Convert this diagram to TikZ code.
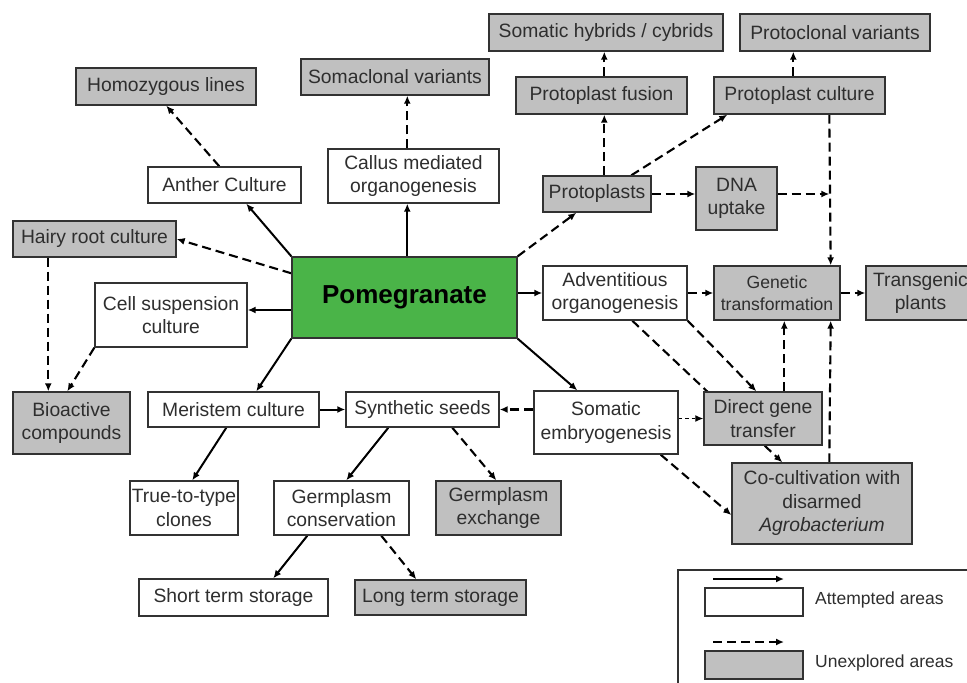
\documentclass[tikz,border=0pt]{standalone}
\usepackage{fontspec}
\setmainfont{Liberation Sans}
\usetikzlibrary{arrows.meta,calc}
\pgfdeclarelayer{bg}
\pgfsetlayers{bg,main}
\definecolor{boxgrey}{RGB}{192,192,192}
\definecolor{pomgreen}{RGB}{74,180,72}
\definecolor{edgecol}{RGB}{50,50,50}
\newcommand\mybox[7]{\node[#1, minimum width={(#5-#3)*1pt}, minimum height={(#6-#4)*1pt}] (#2) at ({(#3+#5)/2},{(#4+#6)/2}) {#7};}
\begin{document}
\begin{tikzpicture}[x=1pt,y=-1pt,
  base/.style={draw=edgecol, line width=1.4pt, inner sep=0pt, align=center,
    font=\fontsize{19.3}{23.5}\selectfont, text=black!82},
  wbox/.style={base, fill=white},
  gbox/.style={base, fill=boxgrey},
  pbox/.style={base, fill=pomgreen, text=black, font=\bfseries\fontsize{26}{30}\selectfont},
  smallfont/.style={font=\fontsize{17.6}{22}\selectfont},
  solidarr/.style={line width=2pt, draw=black, -{Latex[length=8pt,width=7pt]}},
  dasharr/.style={line width=2.1pt, draw=black, dash pattern=on 9pt off 5pt, -{Latex[length=8pt,width=7pt]}},
  dotarr/.style={line width=1.3pt, draw=black, dash pattern=on 3.5pt off 3pt, -{Latex[length=8pt,width=7pt]}},
  legtext/.style={anchor=west, inner sep=0pt, font=\fontsize{17.5}{21}\selectfont, text=black!82},
  legframe/.style={draw=edgecol, line width=1.2pt},
  ]
\useasboundingbox (0,0) rectangle (967,683);

% boxes
\mybox{gbox}{homo}{76}{68}{256}{105}{Homozygous lines}
\mybox{gbox}{somac}{301}{59}{489}{95}{Somaclonal variants}
\mybox{wbox}{anther}{148}{167}{301}{203}{Anther Culture}
\mybox{wbox}{callus}{328}{149}{499}{203}{Callus mediated\\organogenesis}
\mybox{gbox}{hairy}{13}{221}{176}{257}{Hairy root culture}
\mybox{gbox}{somhyb}{489}{14}{723}{51}{Somatic hybrids / cybrids}
\mybox{gbox}{protoclonal}{740}{14}{930}{51}{Protoclonal variants}
\mybox{gbox}{pfusion}{516}{77}{687}{114}{Protoplast fusion}
\mybox{gbox}{pculture}{714}{77}{885}{114}{Protoplast culture}
\mybox{gbox}{protoplasts}{543}{176}{651}{212}{Protoplasts}
\mybox{gbox}{dna}{696}{167}{777}{230}{DNA\\uptake}
\mybox{wbox}{cellsusp}{95}{283}{247}{347}{Cell suspension\\culture}
\mybox{pbox}{pome}{292}{257}{517}{338}{Pomegranate}
\mybox{gbox}{bioactive}{13}{392}{130}{454}{Bioactive\\compounds}
\mybox{wbox}{meristem}{148}{392}{319}{427}{Meristem culture}
\mybox{wbox}{synth}{346}{392}{499}{427}{Synthetic seeds}
\mybox{wbox}{advent}{543}{266}{687}{320}{Adventitious\\organogenesis}
\mybox{gbox,smallfont}{genetic}{714}{266}{840}{320}{Genetic\\transformation}
\mybox{gbox}{transgenic}{866}{266}{975}{320}{Transgenic\\plants}
\mybox{wbox}{somemb}{534}{391}{678}{454}{Somatic\\embryogenesis}
\mybox{gbox}{direct}{704}{392}{822}{445}{Direct gene\\transfer}
\mybox{gbox}{cocult}{732}{463}{912}{544}{Co-cultivation with\\disarmed\\\textit{Agrobacterium}}
\mybox{wbox}{truetype}{130}{481}{238}{535}{True-to-type\\clones}
\mybox{wbox}{germcons}{274}{481}{409}{535}{Germplasm\\conservation}
\mybox{gbox}{germex}{436}{481}{561}{535}{Germplasm\\exchange}
\mybox{wbox}{short}{139}{579}{328}{616}{Short term storage}
\mybox{gbox}{long}{355}{580}{526}{615}{Long term storage}

% helper coordinates
\coordinate (pw) at ($(pome.west)+(0,12.5)$);
\coordinate (cb) at ($(callus.south west)+(80,0)$);
\coordinate (vx) at ($(pculture.south west)+(116,0)$);
\coordinate (dnaj) at (vx |- protoplasts.east);

\begin{pgfonlayer}{bg}
% solid arrows
\draw[solidarr] (pome.north west) -- ($(anther.south west)+(99,0)$);
\draw[solidarr] (cb |- pome.north) -- (cb);
\draw[solidarr] (pw) -- (cellsusp.east |- pw);
\draw[solidarr] (pome.south west) -- ($(meristem.north west)+(109,0)$);
\draw[solidarr] (pome.east |- advent.west) -- (advent.west);
\draw[solidarr] (pome.south east) -- ($(somemb.north west)+(44,0)$);
\draw[solidarr] (meristem.east) -- (synth.west);
\draw[solidarr] ($(meristem.south west)+(79,0)$) -- ($(truetype.north west)+(63,0)$);
\draw[solidarr] ($(synth.south west)+(43,0)$) -- ($(germcons.north west)+(73,0)$);
\draw[solidarr] ($(germcons.south west)+(34,0)$) -- ($(short.north west)+(135,0)$);
% dashed arrows
\draw[dasharr] ($(pome.north west)+(0,17)$) -- (hairy.east);
\draw[dasharr] ($(anther.north west)+(72,0)$) -- ($(homo.south west)+(91,0)$);
\draw[dasharr] ($(callus.north west)+(80,0)$) -- ($(somac.south west)+(107,0)$);
\draw[dasharr] (pome.north east) -- ($(protoplasts.south west)+(34,0)$);
\draw[dasharr] ($(protoplasts.north west)+(62,0)$) -- ($(pfusion.south west)+(89,0)$);
\draw[dasharr] ($(pfusion.north west)+(89,0)$) -- ($(somhyb.south west)+(116,0)$);
\draw[dasharr] ($(protoplasts.north west)+(89,0)$) -- ($(pculture.south west)+(14,0)$);
\draw[dasharr] ($(pculture.north west)+(80,0)$) -- ($(protoclonal.south west)+(54,0)$);
\draw[dasharr] (protoplasts.east) -- (dna.west |- protoplasts.east);
\draw[dasharr] (dna.east |- dnaj) -- (dnaj);
\draw[dasharr] (vx) -- ($(genetic.north east)+(-10,0)$);
\draw[dasharr] (advent.east) -- (genetic.west);
\draw[dasharr] (genetic.east) -- (transgenic.west);
\draw[dasharr] ($(direct.north west)+(81,0)$) -- ($(genetic.south west)+(71,0)$);
\draw[dasharr] ($(cocult.north west)+(98,0)$) -- ($(genetic.south east)+(-10,0)$);
\draw[dasharr] ($(advent.south west)+(90,0)$) -- ($(cocult.north west)+(51,0)$);
\draw[dasharr] (advent.south east) -- ($(direct.north west)+(53,0)$);
\draw[dasharr] (somemb.west |- synth.east) -- (synth.east);
\draw[dotarr] (somemb.east |- direct.west) -- (direct.west);
\draw[dasharr] ($(somemb.south east)+(-18,0)$) -- ($(cocult.west)+(0,11.5)$);
\draw[dasharr] ($(synth.south west)+(107,0)$) -- ($(germex.north west)+(61,0)$);
\draw[dasharr] ($(germcons.south west)+(108,0)$) -- ($(long.north west)+(62,0)$);
\draw[dasharr] ($(hairy.south west)+(36,0)$) -- ($(bioactive.north west)+(36,0)$);
\draw[dasharr] (cellsusp.south west) -- ($(bioactive.north west)+(55,0)$);
\end{pgfonlayer}

% legend
\draw[legframe] (678,570) rectangle (1000,720);
\coordinate (la1) at (713,579);
\coordinate (la2) at (784,579);
\coordinate (lb1) at (713,642);
\coordinate (lb2) at (784,642);
\draw[solidarr] (la1) -- (la2);
\draw[dasharr] (lb1) -- (lb2);
\mybox{wbox}{legw}{705}{588}{803}{616}{}
\mybox{gbox}{legg}{705}{651}{803}{679}{}
\node[legtext] (legwt) at (815,600) {Attempted areas};
\node[legtext] (leggt) at (815,663) {Unexplored areas};
\end{tikzpicture}
\end{document}
